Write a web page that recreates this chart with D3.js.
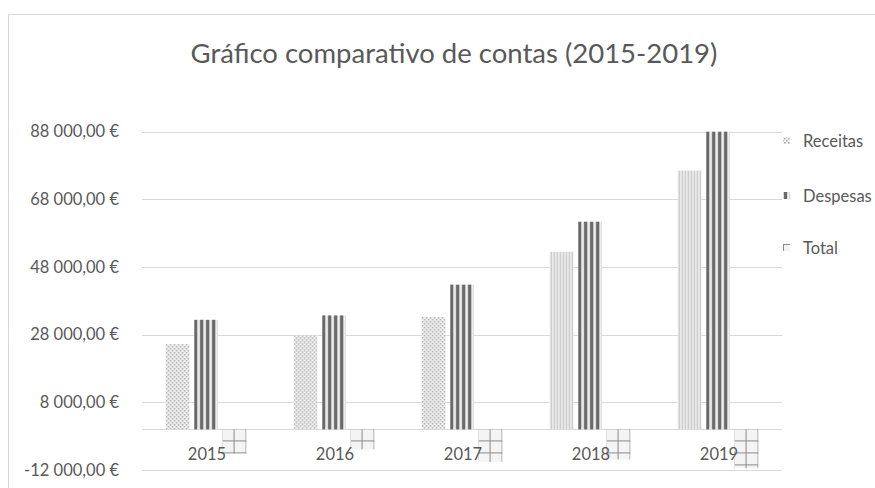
<!DOCTYPE html>
<html>
<head>
<meta charset="utf-8">
<script src="https://cdn.jsdelivr.net/npm/d3@7"></script>
<style>
  body { margin: 0; background: #fff; }
  text { font-family: Lato, "Open Sans", sans-serif; fill: #595959; }
</style>
</head>
<body>
<div id="chart"></div>
<script>
// data
var years = ["2015", "2016", "2017", "2018", "2019"];
var series = ["Receitas", "Despesas", "Total"];
var receitas = [25200, 27800, 33200, 52500, 76500];
var despesas = [32400, 33700, 42800, 61400, 88000];
var total = [-7200, -5900, -9600, -8900, -11500];
var yTicks = [-12000, 8000, 28000, 48000, 68000, 88000];

var width = 875, height = 488;
var plot = {left: 142, right: 782, top: 131.7, bottom: 470};

var svg = d3.select("#chart").append("svg")
    .attr("width", width)
    .attr("height", height);

// patterns
var defs = svg.append("defs");

var dots = defs.append("pattern").attr("id", "p-dots")
    .attr("patternUnits", "userSpaceOnUse").attr("width", 4).attr("height", 4);
dots.append("rect").attr("width", 4).attr("height", 4).attr("fill", "#f4f4f4");
dots.append("rect").attr("x", 0).attr("y", 0).attr("width", 1.5).attr("height", 1.5).attr("fill", "#a3a3a3");
dots.append("rect").attr("x", 2).attr("y", 2).attr("width", 1.5).attr("height", 1.5).attr("fill", "#a3a3a3");

var light = defs.append("pattern").attr("id", "p-light")
    .attr("patternUnits", "userSpaceOnUse").attr("width", 3).attr("height", 4);
light.append("rect").attr("width", 3).attr("height", 4).attr("fill", "#efefef");
light.append("rect").attr("x", 1).attr("width", 1.2).attr("height", 4).attr("fill", "#c4c4c4");

var wide = defs.append("pattern").attr("id", "p-wide")
    .attr("patternUnits", "userSpaceOnUse").attr("width", 6).attr("height", 4);
wide.append("rect").attr("width", 6).attr("height", 4).attr("fill", "#d8d8d8");
wide.append("rect").attr("x", 0).attr("width", 3).attr("height", 4).attr("fill", "#6a6a6a");
wide.append("rect").attr("x", 4).attr("width", 1).attr("height", 4).attr("fill", "#f2f2f2");

var grid = defs.append("pattern").attr("id", "p-grid")
    .attr("patternUnits", "userSpaceOnUse").attr("width", 12).attr("height", 12);
grid.append("rect").attr("width", 12).attr("height", 12).attr("fill", "#f4f4f4");
grid.append("rect").attr("x", 11).attr("width", 1.6).attr("height", 12).attr("fill", "#8a8a8a");
grid.append("rect").attr("y", 11).attr("width", 12).attr("height", 1.6).attr("fill", "#8a8a8a");

// chart area border
svg.append("path")
    .attr("d", "M8.5," + height + "V14.5H" + width)
    .attr("fill", "none")
    .attr("stroke", "#d9d9d9");

// title
svg.append("text")
    .attr("x", 454)
    .attr("y", 63)
    .attr("text-anchor", "middle")
    .style("font-size", "27.5px")
    .text("Gráfico comparativo de contas (2015-2019)");

// scales
var x0 = d3.scaleBand()
    .domain(years)
    .range([plot.left, plot.right]);

var x1 = d3.scaleBand()
    .domain(series)
    .range([0, x0.bandwidth()])
    .paddingInner(1 / 6)
    .paddingOuter(1 / 1.2);

var y = d3.scaleLinear()
    .domain([-12000, 88000])
    .range([plot.bottom, plot.top]);

var locale = d3.formatLocale({decimal: ",", thousands: " ", grouping: [3], currency: ["", " €"], minus: "-"});
var fmt = locale.format("$,.2f");

// gridlines + y labels
svg.append("g")
    .selectAll("line")
    .data(yTicks.concat([0]))
  .enter().append("line")
    .attr("x1", plot.left)
    .attr("x2", plot.right)
    .attr("y1", function(d) { return Math.round(y(d)) + 0.5; })
    .attr("y2", function(d) { return Math.round(y(d)) + 0.5; })
    .attr("stroke", "#d9d9d9")
    .attr("stroke-width", 1.2);

svg.append("g")
    .selectAll("text")
    .data(yTicks)
  .enter().append("text")
    .attr("x", 119)
    .attr("y", function(d) { return y(d); })
    .attr("dy", "0.35em")
    .attr("text-anchor", "end")
    .style("font-size", "16.5px")
    .text(function(d) { return fmt(d); });

// bars
var rows = years.map(function(yr, i) {
    return {year: yr, values: [
        {key: "Receitas", v: receitas[i], fill: i < 3 ? "url(#p-dots)" : "url(#p-light)"},
        {key: "Despesas", v: despesas[i], fill: "url(#p-wide)"},
        {key: "Total", v: total[i], fill: "url(#p-grid)"}
    ]};
});

var groups = svg.append("g")
    .selectAll("g")
    .data(rows)
  .enter().append("g")
    .attr("transform", function(d) { return "translate(" + x0(d.year) + ",0)"; });

groups.selectAll("g")
    .data(function(d) { return d.values; })
  .enter().append("g")
    .attr("transform", function(d) {
        return "translate(" + x1(d.key) + "," + Math.min(y(d.v), y(0)) + ")";
    })
  .append("rect")
    .attr("width", x1.bandwidth())
    .attr("height", function(d) { return Math.abs(y(d.v) - y(0)); })
    .attr("fill", function(d) { return d.fill; });

// category labels
svg.append("g")
    .selectAll("text")
    .data(years)
  .enter().append("text")
    .attr("x", function(d) { return x0(d) + x0.bandwidth() / 2 + 1; })
    .attr("y", 460)
    .attr("text-anchor", "middle")
    .style("font-size", "16.5px")
    .text(function(d) { return d; });

// legend
var legendFill = ["url(#p-dots)", "url(#p-wide)", "url(#p-grid)"];
var legendY = [141, 196, 248];

// offset of 11 so the grid marker shows its corner lines, like the original
var legend = svg.append("g")
    .selectAll("g")
    .data(series)
  .enter().append("g")
    .attr("transform", function(d, i) { return "translate(" + (783 - 11) + "," + (legendY[i] - 4 - 11) + ")"; });

legend.append("rect")
    .attr("x", 11)
    .attr("y", 11)
    .attr("width", 7)
    .attr("height", 7)
    .attr("fill", function(d, i) { return legendFill[i]; });

legend.append("text")
    .attr("x", 11 + 20)
    .attr("y", 11 + 4)
    .attr("dy", "0.35em")
    .style("font-size", "16.5px")
    .text(function(d) { return d; });
</script>
</body>
</html>
